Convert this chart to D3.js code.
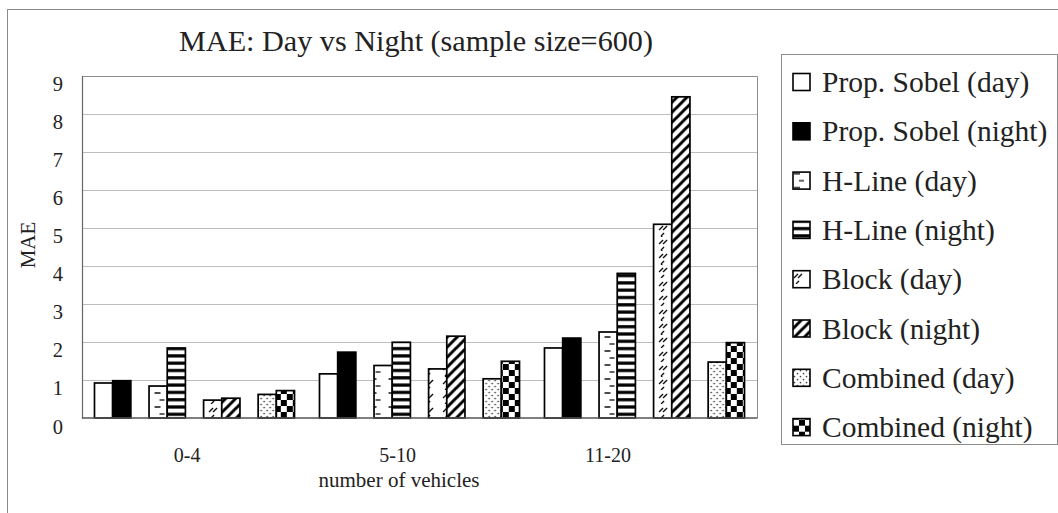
<!DOCTYPE html>
<html>
<head>
<meta charset="utf-8">
<script src="https://cdn.jsdelivr.net/npm/d3@7/dist/d3.min.js"></script>
<style>
  html, body { margin: 0; padding: 0; background: #ffffff; }
  svg { display: block; }
  text { font-family: "Liberation Serif", "DejaVu Serif", serif; fill: #222; }
</style>
</head>
<body>
<svg id="chart" width="1058" height="513"></svg>
<script>
// Vehicle-count groups on the x axis
const categories = ["0-4", "5-10", "11-20"];

// Series names (legend order) and their MAE per group
const seriesNames = [
  "Prop. Sobel (day)", "Prop. Sobel (night)",
  "H-Line (day)", "H-Line (night)",
  "Block (day)", "Block (night)",
  "Combined (day)", "Combined (night)"
];
const sobelDay      = [0.92, 1.16, 1.84];
const sobelNight    = [0.98, 1.73, 2.10];
const hlineDay      = [0.84, 1.38, 2.26];
const hlineNight    = [1.84, 1.99, 3.80];
const blockDay      = [0.47, 1.29, 5.09];
const blockNight    = [0.52, 2.15, 8.44];
const combinedDay   = [0.62, 1.03, 1.47];
const combinedNight = [0.72, 1.49, 1.98];

const yTicks = [0, 1, 2, 3, 4, 5, 6, 7, 8, 9];

const seriesValues = [sobelDay, sobelNight, hlineDay, hlineNight,
                      blockDay, blockNight, combinedDay, combinedNight];
const fills = ["white", "black", "hday", "hnight", "bday", "bnight", "cday", "cnight"];

const svg = d3.select("#chart");
const defs = svg.append("defs");

// Plot area
const plot = { left: 82, right: 757, top: 75.5, bottom: 418 };

const y = d3.scaleLinear().domain([0, 9]).range([plot.bottom, plot.top]);
const x0 = d3.scaleBand().domain(categories)
  .range([plot.left, plot.right]).paddingInner(0.111).paddingOuter(0.0555);
// 11 slots per group: pairs of bars separated by one empty slot
const slot = d3.scaleBand().domain(d3.range(11)).range([0, x0.bandwidth()]);
const slotOf = i => i + Math.floor(i / 2);

// Fill patterns, anchored at the given origin so each bar starts its tile cleanly
function makeFill(kind, id, ox, oy) {
  if (kind === "white") return "#ffffff";
  if (kind === "black") return "#000000";
  let p;
  if (kind === "hday") {
    p = defs.append("pattern").attr("id", id).attr("patternUnits", "userSpaceOnUse")
      .attr("x", ox).attr("y", oy).attr("width", 18).attr("height", 14);
    p.append("rect").attr("width", 18).attr("height", 14).attr("fill", "#fff");
    p.append("line").attr("x1", 1).attr("x2", 7).attr("y1", 3).attr("y2", 3)
      .attr("stroke", "#000").attr("stroke-width", 1.4);
    p.append("line").attr("x1", 6).attr("x2", 11).attr("y1", 10).attr("y2", 10)
      .attr("stroke", "#000").attr("stroke-width", 1.2);
  } else if (kind === "hnight") {
    p = defs.append("pattern").attr("id", id).attr("patternUnits", "userSpaceOnUse")
      .attr("x", ox).attr("y", oy).attr("width", 8).attr("height", 7.3);
    p.append("rect").attr("width", 8).attr("height", 7.3).attr("fill", "#fff");
    p.append("rect").attr("y", 2).attr("width", 8).attr("height", 3.2).attr("fill", "#000");
  } else if (kind === "bday") {
    p = defs.append("pattern").attr("id", id).attr("patternUnits", "userSpaceOnUse")
      .attr("x", ox).attr("y", oy).attr("width", 18).attr("height", 14);
    p.append("rect").attr("width", 18).attr("height", 14).attr("fill", "#fff");
    [[1, 8, 5, 4], [5, 8, 9, 4], [3, 14, 6, 11]].forEach(([a, b, c, d]) =>
      p.append("line").attr("x1", a).attr("y1", b).attr("x2", c).attr("y2", d)
        .attr("stroke", "#000").attr("stroke-width", 1.2));
  } else if (kind === "bnight") {
    p = defs.append("pattern").attr("id", id).attr("patternUnits", "userSpaceOnUse")
      .attr("x", ox).attr("y", oy).attr("width", 10).attr("height", 10);
    p.append("rect").attr("width", 10).attr("height", 10).attr("fill", "#fff");
    [[-1, 11, 11, -1], [-6, 6, 6, -6], [4, 16, 16, 4]].forEach(([a, b, c, d]) =>
      p.append("line").attr("x1", a).attr("y1", b).attr("x2", c).attr("y2", d)
        .attr("stroke", "#000").attr("stroke-width", 3));
  } else if (kind === "cday") {
    p = defs.append("pattern").attr("id", id).attr("patternUnits", "userSpaceOnUse")
      .attr("x", ox).attr("y", oy).attr("width", 6).attr("height", 6);
    p.append("rect").attr("width", 6).attr("height", 6).attr("fill", "#fff");
    p.append("circle").attr("cx", 1.5).attr("cy", 1.5).attr("r", 0.85).attr("fill", "#333");
    p.append("circle").attr("cx", 4.5).attr("cy", 4.5).attr("r", 0.85).attr("fill", "#333");
  } else if (kind === "cnight") {
    p = defs.append("pattern").attr("id", id).attr("patternUnits", "userSpaceOnUse")
      .attr("x", ox).attr("y", oy).attr("width", 12).attr("height", 12);
    p.append("rect").attr("width", 12).attr("height", 12).attr("fill", "#fff");
    p.append("rect").attr("x", 0).attr("y", 0).attr("width", 6).attr("height", 6).attr("fill", "#000");
    p.append("rect").attr("x", 6).attr("y", 6).attr("width", 6).attr("height", 6).attr("fill", "#000");
  }
  return `url(#${id})`;
}

// Outer chart frame
svg.append("rect").attr("x", 7.5).attr("y", 9.5).attr("width", 1060).attr("height", 520)
  .attr("fill", "none").attr("stroke", "#8a8a8a").attr("stroke-width", 1);

// Title
svg.append("text").attr("x", 416).attr("y", 51).attr("text-anchor", "middle")
  .attr("font-size", 30.2).text("MAE: Day vs Night (sample size=600)");

// Gridlines
svg.append("g").selectAll("line").data(yTicks.filter(d => d > 0)).join("line")
  .attr("x1", plot.left).attr("x2", plot.right)
  .attr("y1", d => Math.round(y(d)) + 0.5).attr("y2", d => Math.round(y(d)) + 0.5)
  .attr("stroke", "#bdbdbd").attr("stroke-width", 1);

// Plot frame (top and right)
svg.append("path")
  .attr("d", `M${plot.left},${Math.round(plot.top) + 0.5}H${plot.right + 0.5}V${plot.bottom}`)
  .attr("fill", "none").attr("stroke", "#8c8c8c").attr("stroke-width", 1);

// Y axis with tick labels below each gridline
const yAxis = svg.append("g").attr("transform", `translate(${plot.left},0)`)
  .call(d3.axisLeft(y).tickValues(yTicks).tickSize(0).tickFormat(d3.format("d")));
yAxis.select(".domain").attr("stroke", "#666").attr("stroke-width", 1.2);
yAxis.selectAll("text").attr("font-size", 20.5).attr("fill", "#222")
  .attr("font-family", "Liberation Serif, serif")
  .attr("x", -19).attr("dy", 15);

// Bars
const groups = svg.append("g").selectAll("g").data(categories).join("g")
  .attr("transform", c => `translate(${x0(c)},0)`);
seriesValues.forEach((vals, i) => {
  groups.append("rect")
    .attr("x", slot(slotOf(i)))
    .attr("width", slot.bandwidth())
    .attr("y", (c, j) => y(vals[j]))
    .attr("height", (c, j) => y(0) - y(vals[j]))
    .attr("fill", (c, j) => makeFill(fills[i], `f${i}-${j}`, x0(c) + slot(slotOf(i)), y(0)))
    .attr("stroke", "#000").attr("stroke-width", 1.7);
});

// X axis baseline
svg.append("line").attr("x1", plot.left).attr("x2", plot.right + 0.5)
  .attr("y1", plot.bottom).attr("y2", plot.bottom)
  .attr("stroke", "#555").attr("stroke-width", 1.5);

// Category labels
svg.append("g").selectAll("text").data(categories).join("text")
  .attr("x", c => plot.left + (x0(c) + x0.bandwidth() / 2 - plot.left) * 0.935)
  .attr("y", 462).attr("text-anchor", "middle").attr("font-size", 20).text(c => c);

// Axis titles
svg.append("text").attr("x", 399).attr("y", 487).attr("text-anchor", "middle")
  .attr("font-size", 21).text("number of vehicles");
svg.append("text").attr("transform", "translate(35,245) rotate(-90)")
  .attr("text-anchor", "middle").attr("font-size", 21).text("MAE");

// Legend
const lg = { x: 781, y: 54, w: 276, h: 390, row0: 82, step: 49.3 };
svg.append("rect").attr("x", lg.x + 0.5).attr("y", lg.y + 0.5).attr("width", lg.w).attr("height", lg.h)
  .attr("fill", "#fff").attr("stroke", "#8c8c8c").attr("stroke-width", 1);
const items = svg.append("g").selectAll("g").data(seriesNames).join("g")
  .attr("transform", (d, i) => `translate(0,${lg.row0 + i * lg.step})`);
items.append("rect").attr("x", 793).attr("y", -8.5).attr("width", 17).attr("height", 17)
  .attr("fill", (d, i) => makeFill(fills[i], `lg${i}`, 793, lg.row0 + i * lg.step - 8.5))
  .attr("stroke", "#000").attr("stroke-width", 1.6);
items.append("text").attr("x", 822).attr("y", 10).attr("font-size", 29.5).text(d => d);
</script>
</body>
</html>
